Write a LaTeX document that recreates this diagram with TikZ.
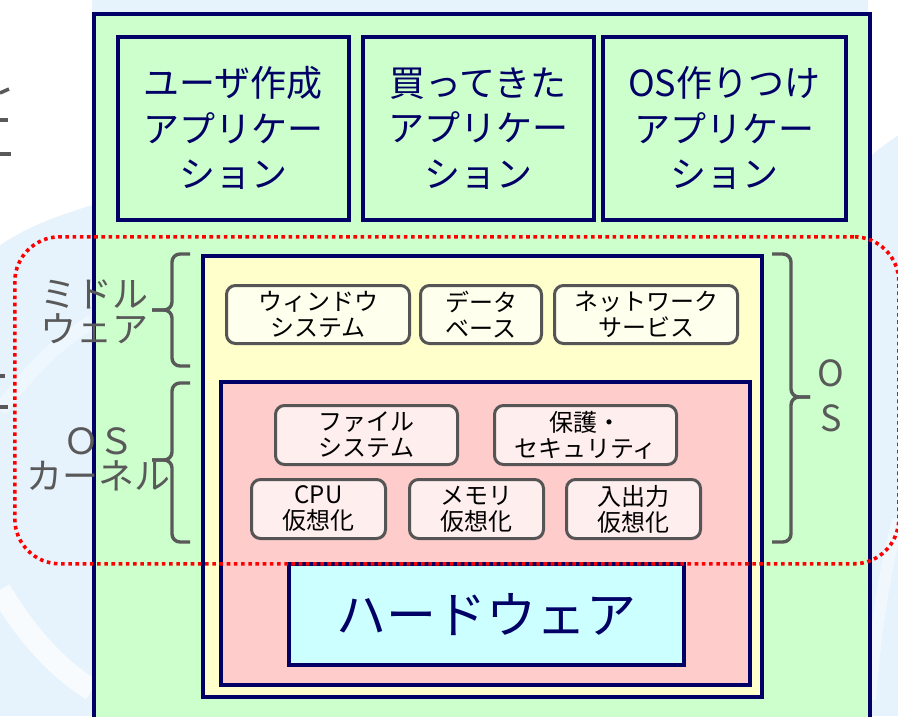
\documentclass[tikz,border=0pt]{standalone}
\usepackage{fontspec}
\setmainfont{Noto Sans CJK JP}
\definecolor{navy}{HTML}{000066}
\definecolor{lgreen}{HTML}{CCFFCC}
\definecolor{lyellow}{HTML}{FFFFCC}
\definecolor{lpink}{HTML}{FFCCCC}
\definecolor{lcyan}{HTML}{CCFFFF}
\definecolor{cream}{HTML}{FFFFEE}
\definecolor{pinkbox}{HTML}{FFEEEE}
\definecolor{boxgray}{HTML}{555555}
\definecolor{labgray}{HTML}{595959}
\definecolor{bgblue}{HTML}{E6F3FC}
\begin{document}
\begin{tikzpicture}[x=1pt,y=-1pt,
  navyline/.style={draw=navy, line width=3.6pt},
  layer/.style={navyline, anchor=north west, inner sep=0pt},
  topbox/.style={layer, fill=lgreen, text=navy, align=center,
    font=\fontsize{36}{45.5}\selectfont},
  svcbox/.style={draw=boxgray, line width=3pt, rounded corners=9pt,
    anchor=north west, inner sep=0pt, align=center,
    font=\fontsize{24}{26}\selectfont},
  sidelabel/.style={text=labgray, align=center, inner sep=0pt,
    font=\fontsize{36}{35}\selectfont},
  bracepath/.style={draw=labgray, line width=3.4pt, rounded corners=8pt},
  fragment/.style={draw=labgray, line width=3.5pt},
  reddots/.style={draw=red, line width=3.6pt, dash pattern=on 3.6pt off 3.6pt, rounded corners=45pt}
]
\useasboundingbox (0,0) rectangle (898,716);
% background
\fill[bgblue] (0,0) rectangle (898,716);
\fill[white] (0,0) -- (92,0) -- (92,205) .. controls (60,215) and (30,225) .. (0,245) -- cycle;
\fill[white] (868,0) -- (898,0) -- (898,135) .. controls (885,145) and (875,150) .. (868,160) -- cycle;
\draw[white, line width=22pt, opacity=0.7] (0,590) .. controls (30,640) and (60,670) .. (92,690);
\draw[white, line width=14pt, opacity=0.35] (0,410) .. controls (30,370) and (60,340) .. (92,322);
\draw[white, line width=12pt, opacity=0.4] (898,520) .. controls (885,570) and (875,630) .. (870,700);
% left edge fragments of neighbouring text
\draw[fragment] (0,93) -- (9,89);
\draw[fragment] (0,120) -- (8,120);
\draw[fragment] (0,154) -- (11,154);
\draw[fragment] (0,376) -- (5,376);
\draw[fragment] (0,407) -- (8,407);
% outer green box
\node[layer, fill=lgreen, minimum width=776pt, minimum height=730pt] (outer) at (92,12) {};
% application boxes
\node[topbox, minimum width=231pt, minimum height=183pt] (app1) at (116,35) {ユーザ作成\\アプリケー\\ション};
\node[topbox, minimum width=231pt, minimum height=183pt] (app2) at (361,35) {買ってきた\\アプリケー\\ション};
\node[topbox, minimum width=243pt, minimum height=183pt] (app3) at (601,35) {OS作りつけ\\アプリケー\\ション};
% OS layer (middleware)
\node[layer, fill=lyellow, minimum width=559pt, minimum height=441pt] (mw) at (201,254) {};
\node[svcbox, fill=cream, minimum width=183pt, minimum height=58pt] (win) at (225,284) {ウィンドウ\\システム};
\node[svcbox, fill=cream, minimum width=121pt, minimum height=58pt] (db) at (419,284) {データ\\ベース};
\node[svcbox, fill=cream, minimum width=183pt, minimum height=58pt] (net) at (553,284) {ネットワーク\\サービス};
% kernel
\node[layer, fill=lpink, minimum width=529pt, minimum height=303pt] (kern) at (219,380) {};
\node[svcbox, fill=pinkbox, minimum width=182pt, minimum height=59pt] (fs) at (274,404) {ファイル\\システム};
\node[svcbox, fill=pinkbox, minimum width=182pt, minimum height=59pt] (sec) at (493,404) {保護・\\セキュリティ};
\node[svcbox, fill=pinkbox, minimum width=134pt, minimum height=59pt] (cpu) at (250,478) {CPU\\仮想化};
\node[svcbox, fill=pinkbox, minimum width=134pt, minimum height=59pt] (mem) at (408,478) {メモリ\\仮想化};
\node[svcbox, fill=pinkbox, minimum width=134pt, minimum height=59pt] (io) at (565,478) {入出力\\仮想化};
% hardware
\node[layer, fill=lcyan, minimum width=395pt, minimum height=101pt, text=navy,
  font=\fontsize{50}{50}\selectfont] (hw) at (287,562) {ハードウェア};
% braces
\coordinate (mwtop) at (190,254);
\coordinate (mwtip) at (152,310);
\coordinate (mwbot) at (190,366);
\draw[bracepath] (mwtop) -- (172,254) -- (172,310) -- (mwtip);
\draw[bracepath] (mwtip) -- (172,310) -- (172,366) -- (mwbot);
\coordinate (kntop) at (190,383);
\coordinate (kntip) at (152,460);
\coordinate (knbot) at (190,542);
\draw[bracepath] (kntop) -- (172,383) -- (172,460) -- (kntip);
\draw[bracepath] (kntip) -- (172,460) -- (172,542) -- (knbot);
\coordinate (ostop) at (772,254);
\coordinate (ostip) at (810,397);
\coordinate (osbot) at (772,542);
\draw[bracepath] (ostop) -- (791,254) -- (791,397) -- (ostip);
\draw[bracepath] (ostip) -- (791,397) -- (791,542) -- (osbot);
% side labels
\node[sidelabel] (mwlabel) at (95,312) {ミドル\\ウェア};
\node[sidelabel] (knlabel) at (99,459) {ＯＳ\\カーネル};
\node[sidelabel, font=\fontsize{36}{45}\selectfont] (oslabel) at (831,396) {O\\S};
% red dotted region
\node[reddots, minimum width=884pt, minimum height=327pt, anchor=north west, inner sep=0pt] (osregion) at (13,235) {};
\end{tikzpicture}
\end{document}
